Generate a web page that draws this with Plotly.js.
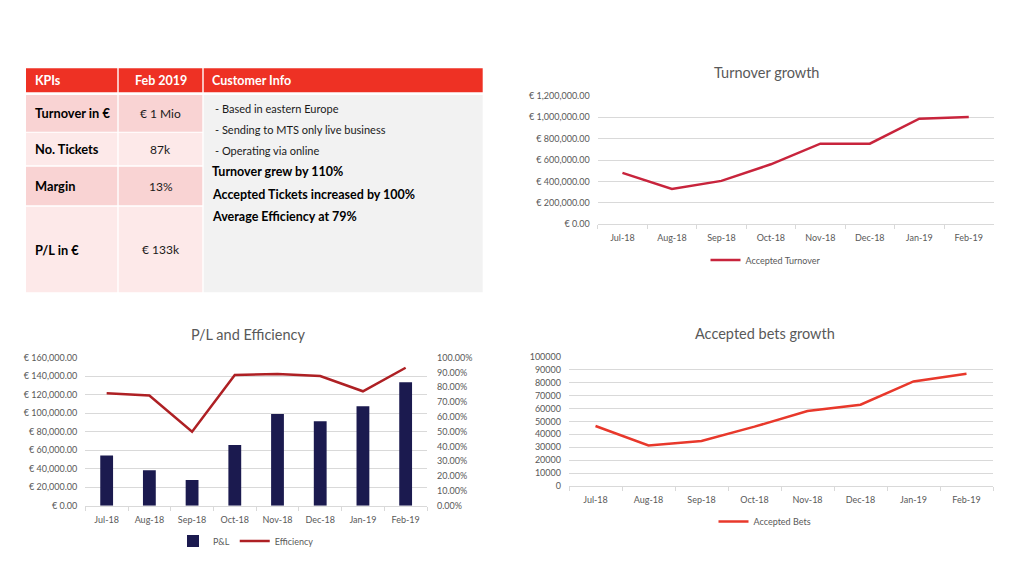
<!DOCTYPE html>
<html>
<head>
<meta charset="utf-8">
<script src="https://cdn.plot.ly/plotly-3.0.1.min.js"></script>
<style>html,body{margin:0;padding:0;background:#fff;}#chart{width:1024px;height:576px;}</style>
</head>
<body>
<div id="chart"></div>
<script>
// ---- data ----
const months = ["Jul-18","Aug-18","Sep-18","Oct-18","Nov-18","Dec-18","Jan-19","Feb-19"];
const turnover = [480000, 330000, 405000, 560000, 752000, 752000, 985000, 1002000];
const pl = [54400, 38200, 27700, 65600, 99100, 91200, 107400, 133500];
const efficiency = [0.759, 0.745, 0.50, 0.883, 0.89, 0.876, 0.773, 0.932];
const bets = [46400, 31400, 34800, 45900, 58000, 62900, 80900, 86900];

const tableHeaders = ["KPIs", "Feb 2019", "Customer Info"];
const kpiLabels = ["Turnover in €", "No. Tickets", "Margin", "P/L in €"];
const kpiValues = ["€ 1 Mio", "87k", "13%", "€ 133k"];
const infoLines = ["- Based in eastern Europe", "- Sending to MTS only live business", "- Operating via online"];
const highlights = ["Turnover grew by 110%", "Accepted Tickets increased by 100%", "Average Efficiency at 79%"];

// ---- helpers (pixel -> paper) ----
const W = 1024, H = 576;
const px = x => x / W;
const py = y => 1 - y / H;
const FONT = "Lato, 'Open Sans', sans-serif";
const GRID = "#d9d9d9";
const TICKC = "#595959";

// ---- table drawn with shapes/annotations ----
const shapes = [];
const annotations = [];
function rect(x0, y0, x1, y1, color) {
  shapes.push({type: "rect", xref: "paper", yref: "paper", x0: px(x0), x1: px(x1), y0: py(y1), y1: py(y0),
    fillcolor: color, line: {width: 0}, layer: "below"});
}
function text(t, x, y, opts) {
  annotations.push(Object.assign({text: t, xref: "paper", yref: "paper", x: px(x), y: py(y), showarrow: false,
    xanchor: "left", yanchor: "middle", font: {family: FONT, size: 12, color: "#000"}}, opts || {}));
}
// header
const colX = [[26, 117.3], [118.7, 202.3], [203.7, 482.7]];
colX.forEach((c, i) => rect(c[0], 68.3, c[1], 92.3, "#ee3124"));
text("<b>" + tableHeaders[0] + "</b>", 33, 80.5, {font: {family: FONT, size: 12.5, color: "#fff"}});
text("<b>" + tableHeaders[1] + "</b>", 160.5, 80.5, {xanchor: "center", font: {family: FONT, size: 12.5, color: "#fff"}});
text("<b>" + tableHeaders[2] + "</b>", 210, 80.5, {font: {family: FONT, size: 12.5, color: "#fff"}});
// rows
const rowY = [[95, 131.7], [132.7, 165.3], [166.7, 205.3], [206.7, 292.3]];
const rowColors = ["#f9d3d3", "#fde9e9", "#f9d3d3", "#fde9e9"];
rowY.forEach((r, i) => {
  rect(colX[0][0], r[0], colX[0][1], r[1], rowColors[i]);
  rect(colX[1][0], r[0], colX[1][1], r[1], rowColors[i]);
  const mid = (r[0] + r[1]) / 2;
  text("<b>" + kpiLabels[i] + "</b>", 33, mid, {font: {family: FONT, size: 12.8, color: "#000"}});
  text(kpiValues[i], 160.5, mid, {xanchor: "center", font: {family: FONT, size: 12, color: "#1a1a1a"}});
});
rect(colX[2][0], 95, colX[2][1], 292.3, "#f2f2f2");
const infoY = [108.5, 129, 150];
infoLines.forEach((t, i) => text(t, 213, infoY[i], {font: {family: FONT, size: 11, color: "#1a1a1a"}}));
const hiY = [171.5, 194, 216];
highlights.forEach((t, i) => text("<b>" + t + "</b>", 210, hiY[i], {font: {family: FONT, size: 12.5, color: "#000"}}));

// ---- chart titles ----
const titleFont = {family: FONT, size: 14.5, color: "#595959"};
text("Turnover growth", 766, 72, {xanchor: "center", font: titleFont});
text("P/L and Efficiency", 248, 334, {xanchor: "center", font: titleFont});
text("Accepted bets growth", 765, 333.5, {xanchor: "center", font: titleFont});

// ---- traces ----
const traces = [
  {type: "scatter", mode: "lines", x: months, y: turnover, name: "Accepted Turnover",
   line: {color: "#c8243c", width: 2.5}, xaxis: "x", yaxis: "y", legend: "legend"},
  {type: "bar", x: months, y: pl, name: "P&L", marker: {color: "#1b1a4f"}, xaxis: "x2", yaxis: "y2", legend: "legend2"},
  {type: "scatter", mode: "lines", x: months, y: efficiency, name: "Efficiency",
   line: {color: "#ae2024", width: 2.5}, xaxis: "x2", yaxis: "y3", legend: "legend2"},
  {type: "scatter", mode: "lines", x: months, y: bets, name: "Accepted Bets",
   line: {color: "#e8382b", width: 2.5}, xaxis: "x3", yaxis: "y4", legend: "legend3"}
];

const tickFont = {family: FONT, size: 9, color: TICKC};
function xAxis(domain, anchor) {
  return {domain: domain, anchor: anchor, type: "category", range: [-0.5, 7.5], tickson: "boundaries",
    ticks: "outside", ticklen: 4, tickcolor: GRID, showline: true, linecolor: GRID, linewidth: 1,
    showgrid: false, zeroline: false, tickfont: tickFont, fixedrange: true, ticklabelstandoff: 5};
}
function yAxis(domain, anchor, range, dtick, fmt, prefix) {
  return {domain: domain, anchor: anchor, range: range, dtick: dtick, tick0: 0, tickformat: fmt,
    tickprefix: prefix || "", showgrid: true, gridcolor: GRID, gridwidth: 1, zeroline: false,
    showline: false, ticks: "", tickfont: tickFont, fixedrange: true, ticklabelstandoff: 7};
}

const legFont = {family: FONT, size: 9, color: TICKC};
const layout = {
  width: W, height: H, margin: {l: 0, r: 0, t: 0, b: 0}, paper_bgcolor: "#fff", plot_bgcolor: "rgba(0,0,0,0)",
  font: {family: FONT},
  bargap: 0.7,
  xaxis: xAxis([px(597.7), px(993.5)], "y"),
  yaxis: yAxis([py(224.3), py(95.7)], "x", [0, 1200000], 200000, ",.2f", "€ "),
  xaxis2: xAxis([px(85.3), px(427)], "y2"),
  yaxis2: yAxis([py(505.7), py(357.7)], "x2", [0, 160000], 20000, ",.2f", "€ "),
  yaxis3: Object.assign(yAxis([py(505.7), py(357.7)], "x2", [0, 1], 0.1, ".2%"), {overlaying: "y2", side: "right", showgrid: false, ticklabelstandoff: 9}),
  xaxis3: xAxis([px(569), px(993)], "y4"),
  yaxis4: yAxis([py(486), py(356.7)], "x3", [0, 100000], 10000, "d"),
  showlegend: true,
  legend: {x: px(766), y: py(260), xanchor: "center", yanchor: "middle", orientation: "h", font: legFont, bgcolor: "rgba(0,0,0,0)"},
  legend2: {x: px(246), y: py(541), xanchor: "center", yanchor: "middle", orientation: "h", font: legFont, bgcolor: "rgba(0,0,0,0)"},
  legend3: {x: px(765), y: py(521.5), xanchor: "center", yanchor: "middle", orientation: "h", font: legFont, bgcolor: "rgba(0,0,0,0)"},
  shapes: shapes,
  annotations: annotations
};

Plotly.newPlot("chart", traces, layout, {displayModeBar: false, staticPlot: true});
</script>
</body>
</html>
